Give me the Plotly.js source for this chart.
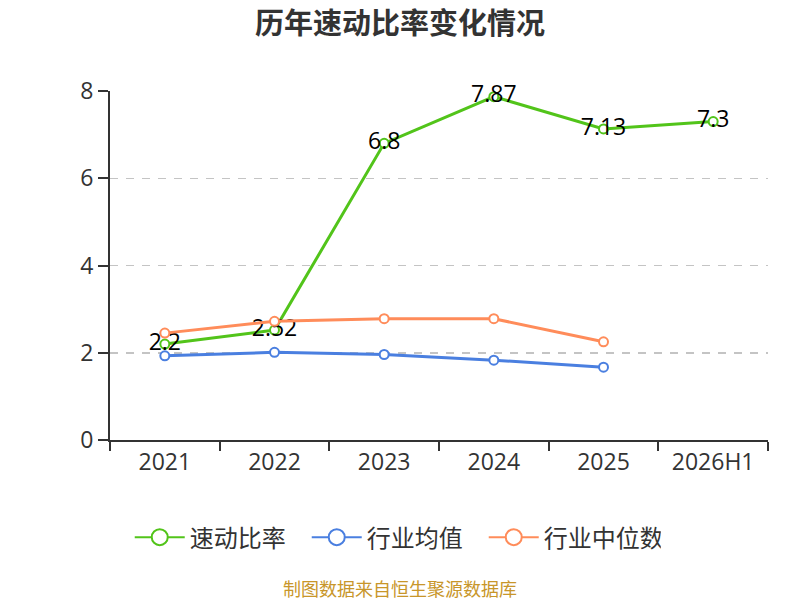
<!DOCTYPE html>
<html>
<head>
<meta charset="utf-8">
<script src="https://cdn.plot.ly/plotly-3.0.1.min.js"></script>
<style>
  html, body { margin: 0; padding: 0; background: #fff; }
  #chart { width: 800px; height: 600px; }
</style>
</head>
<body>
<div id="chart"></div>
<script>
const years = ['2021', '2022', '2023', '2024', '2025', '2026H1'];
const quickRatio = [2.2, 2.52, 6.8, 7.87, 7.13, 7.3];
const industryMean = [1.93, 2.01, 1.96, 1.83, 1.67];
const industryMedian = [2.45, 2.72, 2.78, 2.78, 2.25];

const seriesNames = ['速动比率', '行业均值', '行业中位数'];
const seriesColors = ['#52c41a', '#4a7fe0', '#ff8c5a'];

const font = '"Noto Sans CJK SC", "Noto Sans", sans-serif';
const numFont = '"Open Sans", "Noto Sans CJK SC", sans-serif';

function series(i, x, y, withText) {
    const color = seriesColors[i];
    const t = {
        x: x,
        y: y,
        type: 'scatter',
        mode: withText ? 'lines+markers+text' : 'lines+markers',
        name: seriesNames[i],
        legendgroup: 'g' + i,
        showlegend: false,
        line: { color: color, width: 3 },
        marker: { symbol: 'circle', size: 9, color: '#fff', line: { color: color, width: 2 } },
        cliponaxis: false
    };
    if (withText) {
        t.text = y.map(v => String(v));
        t.textposition = 'middle center';
        t.textfont = { family: numFont, size: 23, color: '#000' };
    }
    return t;
}

// legend entries only (bigger marker like the original legend)
function legendEntry(i) {
    const color = seriesColors[i];
    return {
        x: [null],
        y: [null],
        type: 'scatter',
        mode: 'lines+markers',
        name: seriesNames[i],
        legendgroup: 'g' + i,
        line: { color: color, width: 2 },
        marker: { symbol: 'circle', size: 16, color: '#fff', line: { color: color, width: 2 } }
    };
}

const data = [
    series(0, years, quickRatio, true),
    series(1, years.slice(0, 5), industryMean, false),
    series(2, years.slice(0, 5), industryMedian, false),
    legendEntry(0),
    legendEntry(1),
    legendEntry(2)
];

const layout = {
    width: 800,
    height: 600,
    paper_bgcolor: '#fff',
    plot_bgcolor: '#fff',
    font: { family: font, color: '#333' },
    title: {
        text: '<b>历年速动比率变化情况</b>',
        font: { family: font, size: 29, color: '#333' },
        x: 0.5,
        xanchor: 'center',
        y: 0.96,
        yanchor: 'middle'
    },
    margin: { l: 110, r: 32, t: 91, b: 160 },
    xaxis: {
        type: 'category',
        categoryorder: 'array',
        categoryarray: years,
        range: [-0.5, 5.5],
        showline: true,
        linecolor: '#333',
        linewidth: 2,
        ticks: 'outside',
        tickson: 'boundaries',
        ticklen: 9,
        tickwidth: 2,
        tickcolor: '#333',
        showgrid: false,
        tickfont: { family: numFont, size: 23, color: '#333' },
        zeroline: false
    },
    yaxis: {
        range: [0, 8],
        dtick: 2,
        tick0: 0,
        showline: true,
        linecolor: '#333',
        linewidth: 2,
        ticks: 'outside',
        ticklen: 10,
        tickwidth: 2,
        tickcolor: '#333',
        showgrid: true,
        gridcolor: '#c4c4c4',
        griddash: '8px,8px',
        gridwidth: 1.5,
        zeroline: false,
        tickfont: { family: numFont, size: 23, color: '#333' }
    },
    showlegend: true,
    legend: {
        orientation: 'h',
        x: 0.03,
        xanchor: 'left',
        y: -0.215,
        yanchor: 'top',
        font: { family: font, size: 24, color: '#333' },
        entrywidth: 112,
        entrywidthmode: 'pixels',
        itemwidth: 50
    },
    annotations: [{
        text: '制图数据来自恒生聚源数据库',
        xref: 'paper',
        yref: 'paper',
        x: 0.4407,
        y: -0.425,
        xanchor: 'center',
        yanchor: 'middle',
        showarrow: false,
        font: { family: font, size: 18, color: '#c8962a' }
    }]
};

Plotly.newPlot('chart', data, layout, { staticPlot: true });
</script>
</body>
</html>
